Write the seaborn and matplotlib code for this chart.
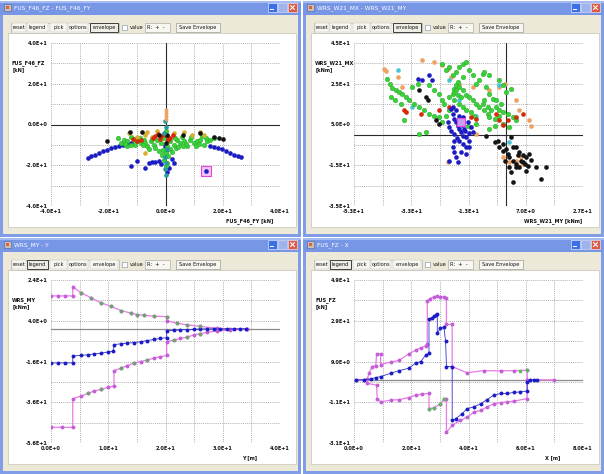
import numpy as np
import pandas as pd
import matplotlib
matplotlib.use("Agg")
import matplotlib.pyplot as plt
from matplotlib.patches import Rectangle
import seaborn as sns

# ---------------------------------------------------------------- data
# Window 1: FUS_F46_FZ vs FUS_F46_FY  [kN]
P1_BLUE = [(-27.2, -16.4), (-26.1, -15.6), (-24.7, -14.8), (-23.3, -14.0), (-22.0, -13.2),
           (-20.5, -12.4), (-19.1, -11.5), (-17.7, -10.9), (-16.2, -10.4), (-14.7, -9.9),
           (-13.3, -9.4), (-11.9, -9.1), (15.4, -10.4), (16.8, -10.9), (18.2, -11.5),
           (19.6, -12.2), (21.0, -13.2), (22.4, -14.0), (23.8, -14.8), (25.2, -15.3),
           (26.3, -15.9), (-11.9, -20.5), (-10.1, -17.9), (-7.2, -21.3), (-5.8, -18.9),
           (-4.6, -18.2), (-3.5, -18.5), (-2.3, -18.0), (-1.4, -19.2), (0.6, -23.3),
           (1.2, -21.3), (2.3, -16.9), (3.1, -18.9), (0.2, -13.2), (-0.3, -10.7), (14.3, -22.9)]
P1_GREEN = [(-15.7, -9.1), (-14.5, -7.5), (-13.3, -8.3), (-12.2, -9.9), (-11.0, -7.5), (-9.9, -8.3),
            (-8.7, -9.1), (-7.5, -7.5), (-6.4, -10.7), (-5.2, -8.3), (-4.1, -9.9), (-2.9, -7.5),
            (-1.7, -9.1), (-0.6, -6.7), (0.6, -10.7), (1.7, -8.3), (2.9, -9.9), (4.1, -7.5),
            (5.2, -9.1), (6.4, -8.3), (7.5, -10.7), (8.7, -7.5), (9.9, -9.1), (11.0, -8.3),
            (12.2, -7.5), (13.3, -9.9), (14.5, -8.3), (15.7, -7.5), (16.8, -6.7), (-13.3, -10.7),
            (-10.5, -10.0), (-7.0, -9.0), (-3.5, -11.5), (3.5, -11.5), (7.0, -9.5), (10.5, -10.5),
            (-1.0, -12.4), (0.0, -14.0), (1.0, -15.6), (-0.5, -17.2), (0.5, -18.9), (-1.2, -14.8),
            (1.5, -12.0), (0.2, -20.5), (-0.3, -5.0), (0.3, -3.4), (-16.5, -6.5), (-12.0, -6.0),
            (-9.0, -6.5), (5.8, -6.0), (9.0, -6.2), (12.8, -5.8), (4.5, -11.0), (-5.8, -11.8),
            (2.2, -13.5), (-2.2, -13.0), (-14.0, -9.5), (-8.0, -10.2), (-4.8, -7.0), (3.2, -6.8),
            (6.0, -10.4), (11.6, -9.8), (14.0, -6.8), (-10.8, -6.9)]
P1_GOLD = [(-12.8, -4.2), (-9.9, -5.9), (-7.3, -5.0), (-6.4, -3.9), (-4.6, -5.9), (2.9, -4.2),
           (6.4, -3.9), (9.3, -5.0), (12.2, -3.9), (13.6, -5.0), (-7.0, -14.0), (-2.9, -3.4)]
P1_RED = [(-3.5, -5.5), (-2.5, -4.5), (-1.5, -5.5), (-0.5, -4.8), (0.5, -5.8), (1.5, -6.5),
          (-2.0, -7.0), (0.8, -7.5), (-4.5, -6.5), (2.5, -5.0), (-10.0, -8.0), (-11.5, -7.0),
          (-8.7, -7.5)]
P1_BLACK = [(-20.5, -8.3), (-12.4, -3.9), (-8.1, -3.9), (-2.3, -5.0), (0.6, -5.0), (6.1, -5.0),
            (12.2, -4.2), (16.8, -6.2), (18.6, -6.7), (20.1, -7.2), (0.0, -9.1)]
P1_TEAL = [(-0.3, 1.5), (0.2, -1.0), (-0.4, -4.0), (0.4, -12.0), (-0.2, -16.0), (0.3, -19.0),
           (-0.1, -22.0), (0.0, -25.0)]
P1_ORANGE = [(0.1, 7.0), (0.1, 5.5), (0.1, 4.0), (0.1, 2.5)]
P1_PICKED = [(14.3, -22.9)]

# Window 2: WRS_W21_MX vs WRS_W21_MY  [kNm]
P2_GREEN = [(-41.3, 27.5), (-40.5, 25.0), (-39.6, 23.0), (-38.4, 21.7), (-37.2, 20.9), (-36.1, 20.1),
            (-40.2, 18.4), (-38.6, 16.8), (-36.7, 15.2), (-34.9, 18.4), (-33.7, 16.8), (-32.0, 15.2),
            (-30.2, 13.5), (-28.5, 11.9), (-26.7, 10.2), (-25.0, 9.4), (-23.2, 8.6), (-27.7, 1.2),
            (-32.6, 23.4), (-30.8, 25.0), (-26.7, 24.2), (-25.0, 21.7), (-23.2, 20.1), (-22.1, 16.8),
            (-21.5, 15.2), (-19.7, 18.4), (-18.5, 20.1), (-18.0, 22.5), (-17.4, 24.2), (-16.8, 25.8),
            (-16.2, 23.4), (-15.0, 21.7), (-13.9, 19.3), (-12.7, 18.4), (-11.5, 16.8), (-10.4, 15.2),
            (-9.2, 13.5), (-7.5, 11.9), (-6.3, 10.2), (-5.7, 8.6), (-3.9, 7.8), (-2.2, 9.4),
            (-1.0, 11.1), (0.7, 10.2), (2.5, 8.6), (3.6, 7.0), (-10.4, 25.0), (-9.2, 26.6),
            (-8.0, 29.9), (-6.9, 23.4), (-5.7, 20.1), (-4.5, 17.6), (-3.4, 16.8), (-1.6, 15.2),
            (-16.2, 33.2), (-15.0, 34.8), (-13.9, 35.7), (-17.4, 30.7), (-18.5, 29.1), (-19.7, 33.2),
            (-20.9, 31.6), (-22.1, 34.8), (-15.0, 28.3), (-12.7, 31.6), (-11.5, 29.1), (-18.0, 16.8),
            (-16.2, 15.2), (-15.0, 13.5), (-13.9, 11.9), (-12.1, 11.1), (-11.0, 9.4), (-19.7, 11.9),
            (-20.9, 9.4), (1.9, 22.5), (0.1, 20.9), (-1.0, 24.2), (-2.2, 26.6), (-5.7, 29.1),
            (-7.5, 30.7), (-5.7, 2.9), (-3.9, 4.5), (-10.4, 5.3), (-13.3, 4.5), (-22.1, 6.1),
            (-15.0, 7.8), (-1.0, 5.3), (1.3, 3.7), (-7.5, 16.8), (-6.3, 13.5), (-30.2, 0.4),
            (-35.5, 7.0), (-18.0, 20.9), (-16.8, 19.3), (-15.6, 18.4), (-17.4, 21.7), (-8.0, 15.2),
            (-5.1, 11.9), (-3.4, 13.5), (-2.2, 11.9)]
P2_ORANGE = [(-42.5, 32.4), (-41.9, 31.2), (-37.8, 28.3), (-36.1, 23.4), (-29.1, 36.5), (-25.0, 35.7),
             (-22.1, 34.0), (-20.3, 32.4), (-19.1, 28.3), (-16.2, 25.0), (-11.5, 23.4), (-5.7, 21.7),
             (-2.2, 23.4), (-0.4, 25.0), (3.6, 16.8), (4.8, 11.9), (8.3, 7.0), (8.9, 4.5),
             (-1.0, -11.1), (1.3, -13.5), (3.6, -12.7), (6.0, -14.3), (4.2, -15.2), (5.4, -11.1),
             (-20.3, -13.5), (-10.4, 0.4)]
P2_CYAN = [(-37.8, 31.6), (-32.6, 13.5), (-19.7, 26.6), (-2.2, 24.2), (1.3, -3.7), (-16.2, 16.8),
           (-10.4, 9.4)]
P2_RED = [(-35.5, 11.9), (-34.9, 11.1), (-29.6, 10.2), (-23.2, 11.9), (-19.7, 13.5), (-12.1, 8.6),
          (-10.4, 7.8), (-2.2, 7.0), (-1.0, 5.0), (0.7, 7.0), (3.6, 8.6), (6.0, 10.2), (-3.4, 10.2)]
P2_BLUE = [(-30.8, 27.5), (-29.1, 26.6), (-26.7, 29.1), (-25.6, 26.6), (-19.1, 12.7), (-18.5, 10.2),
           (-18.0, 7.8), (-17.4, 6.1), (-16.8, 4.5), (-16.2, 2.9), (-15.6, 1.2), (-15.0, -0.4),
           (-13.9, -1.2), (-12.7, -2.9), (-19.1, 2.0), (-18.0, 0.4), (-17.1, -1.6), (-16.2, -2.9),
           (-15.0, -4.5), (-13.9, -6.1), (-12.7, -5.8), (-18.5, -6.1), (-18.0, -8.6), (-17.4, -11.1),
           (-19.7, -12.7), (-16.8, -13.5), (-20.3, 6.1), (-19.7, 3.7), (-14.8, 8.6), (-13.3, 6.1),
           (-12.1, 3.7), (-15.3, 5.0), (-14.1, 2.0), (-12.9, 0.7), (-16.4, 9.4), (-18.0, -2.9),
           (-15.6, -8.6), (-13.9, -9.4), (-14.5, 2.9), (-11.5, 1.2), (-18.5, 13.5), (-17.4, 11.9)]
P2_BLACK = [(-30.2, 21.7), (-27.9, 18.4), (-24.4, 7.0), (-23.2, 5.3), (-27.3, 16.8), (-6.9, -0.4),
            (-3.9, -3.7), (-2.2, -6.1), (-1.0, -7.8), (0.1, -7.0), (0.7, -9.4), (1.3, -11.1),
            (2.5, -12.7), (3.6, -14.3), (4.8, -16.0), (6.0, -13.5), (7.2, -11.1), (8.3, -9.4),
            (1.9, -1.2), (2.5, -6.1), (3.6, -6.1), (4.8, -8.6), (6.0, -10.2), (-0.4, -12.7),
            (1.3, -16.0), (1.9, -18.4), (2.5, -23.4), (3.6, -16.0), (7.2, -17.6), (10.7, -16.0),
            (14.2, -16.0), (12.4, -21.7), (-1.0, -4.5), (-2.8, -2.9), (5.4, -12.7), (6.6, -14.3),
            (7.7, -15.2), (8.9, -12.4), (4.2, -10.2)]
P2_PICKED = [(-15.6, 6.1)]

# Window 3: WRS_MY [kNm] along Y [m]
P3_UPPER = [(0.0, 16.2), (1.2, 16.2), (2.5, 16.2), (3.8, 16.2), (3.8, 20.7), (5.2, 17.8), (7.0, 15.3),
            (8.7, 12.8), (10.4, 11.2), (12.2, 9.0), (13.9, 7.8), (15.1, 7.0), (16.2, 6.7), (18.0, 6.2),
            (20.2, 6.0), (20.2, 4.0), (22.0, 2.8), (23.8, 2.0), (26.1, 1.2), (29.0, 0.3), (31.3, 0.0),
            (34.2, 0.0)]
P3_MID = [(0.0, -16.7), (1.2, -16.7), (2.5, -16.7), (3.8, -16.7), (3.8, -13.3), (5.2, -13.0),
          (6.4, -12.7), (7.5, -12.3), (8.7, -12.0), (9.9, -11.3), (10.9, -11.0), (11.0, -7.7),
          (12.2, -7.3), (13.3, -7.0), (14.5, -6.7), (15.7, -6.3), (16.8, -5.7), (18.0, -5.2),
          (19.1, -4.7), (20.2, -4.3), (20.2, -1.0), (21.4, -0.7), (22.6, -0.5), (23.8, -0.3),
          (24.9, -0.2), (26.1, 0.0), (27.2, 0.0), (28.4, 0.0), (29.6, 0.0), (30.7, 0.0), (31.9, 0.0),
          (33.0, 0.0), (34.1, 0.0)]
P3_LOWER = [(0.0, -48.3), (1.9, -48.3), (3.8, -48.3), (3.8, -34.3), (5.2, -33.0), (6.4, -31.7),
            (7.5, -30.5), (8.7, -29.7), (9.9, -28.7), (11.0, -28.0), (11.0, -20.5), (12.2, -19.3),
            (13.3, -18.0), (14.5, -16.8), (15.7, -16.0), (16.8, -15.3), (18.0, -14.3), (19.1, -13.7),
            (20.2, -13.0), (20.2, -6.3), (21.4, -5.5), (22.6, -4.7), (23.8, -4.0), (24.9, -3.0),
            (26.1, -2.3), (27.2, -1.7), (29.0, -1.0), (31.3, -0.5), (34.2, 0.0)]
P3_GREEN = [(5.2, 17.8), (7.0, 15.3), (8.7, 12.8), (10.4, 11.2), (12.2, 9.0), (13.9, 7.8),
            (15.1, 7.0), (16.2, 6.7), (18.0, 6.2), (20.2, 6.0), (22.0, 2.8), (23.8, 2.0),
            (26.1, 1.2), (6.4, -31.7), (8.7, -29.7), (12.2, -19.3), (14.5, -16.8), (16.8, -15.3),
            (21.4, -5.5), (23.8, -4.0), (26.1, -2.3)]

# Window 4: FUS_FZ [kN] along X [m]
P4_UPPER = [(0.6, 0.0), (3.5, 0.0), (4.7, 0.4), (5.2, 3.2), (6.4, 6.5), (7.6, 7.0), (7.9, 12.6),
            (9.3, 12.8), (9.3, 7.5), (12.8, 8.7), (15.7, 9.5), (19.2, 12.8), (21.5, 14.5),
            (23.3, 15.7), (25.0, 16.6), (25.6, 17.5), (25.6, 38.8), (26.7, 39.9), (27.9, 40.7),
            (29.1, 41.0), (30.2, 40.7), (31.4, 40.7), (32.3, 40.1), (32.3, 27.2), (34.3, 27.2),
            (34.3, 6.5), (39.5, 3.5), (45.3, 4.5), (51.2, 4.4), (55.8, 4.5), (60.5, 4.7),
            (60.5, 0.0), (69.8, 0.0)]
P4_MID = [(0.6, 0.0), (3.5, 0.0), (5.8, 0.4), (7.6, 1.1), (9.3, 1.6), (12.8, 3.2), (15.7, 4.5),
          (19.2, 5.7), (21.5, 8.2), (23.3, 9.0), (25.0, 12.0), (26.2, 13.1), (26.2, 29.7),
          (27.3, 30.5), (27.9, 31.3), (28.5, 31.8), (29.1, 32.1), (29.1, 23.0), (30.2, 25.2),
          (31.4, 25.9), (32.0, 18.9), (32.3, 6.5), (34.3, 6.5), (34.3, -19.9), (35.5, -19.1),
          (37.8, -16.6), (39.5, -14.1), (41.9, -13.3), (44.2, -11.7), (46.5, -9.7), (48.8, -7.5),
          (51.2, -6.7), (53.5, -6.7), (55.8, -6.2), (58.1, -5.9), (60.5, -5.5), (60.5, -0.9),
          (61.6, 0.0), (62.8, 0.0), (64.0, 0.0)]
P4_LOWER = [(4.7, -1.7), (7.9, -2.6), (8.1, -9.2), (9.3, -10.8), (12.8, -10.0), (15.7, -9.7),
            (19.2, -8.7), (21.5, -7.5), (23.8, -7.0), (26.2, -6.7), (26.2, -14.1), (27.9, -13.8),
            (30.2, -11.7), (31.6, -9.2), (32.3, -9.2), (32.3, -25.7), (34.3, -22.4), (37.2, -19.9),
            (39.5, -18.3), (41.9, -15.8), (44.2, -15.0), (46.5, -13.3), (48.8, -11.7), (51.2, -11.2),
            (53.5, -10.8), (55.8, -10.5), (60.5, -9.2), (60.5, 0.0)]
P4_GREEN = [(26.2, -14.1), (27.9, -13.8), (30.2, -11.7), (31.6, -9.2), (58.1, 4.5), (60.5, 4.7)]

# axis ranges (one grid step per tick) and labels
AXES = [
    dict(title="FUS_F46_FZ - FUS_F46_FY", xlab="FUS_F46_FY [kN]", ylab=("FUS_F46_FZ", "[kN]"),
         xr=(-40, 40, 10), yr=(-40, 40, 10), active="envelope"),
    dict(title="WRS_W21_MX - WRS_W21_MY", xlab="WRS_W21_MY [kNm]", ylab=("WRS_W21_MX", "[kNm]"),
         xr=(-53, 27, 10), yr=(-35, 45, 10), active="envelope"),
    dict(title="WRS_MY - Y", xlab="Y [m]", ylab=("WRS_MY", "[kNm]"),
         xr=(0, 40, 5), yr=(-56, 24, 10), active="legend"),
    dict(title="FUS_FZ - X", xlab="X [m]", ylab=("FUS_FZ", "[kN]"),
         xr=(0, 80, 10), yr=(-31, 49, 10), active="legend"),
]

# ---------------------------------------------------------------- style
sns.set_theme(style="white")
plt.rcParams['font.family'] = ['DejaVu Sans']

BLUE = '#1c1cc4'
GREEN = '#3ad23a'
GREEN_EDGE = '#26a526'
GOLD = '#d8b030'
RED = '#d42a0a'
BLACK = '#141414'
TEAL = '#2a9a9a'
ORANGE = '#f0a060'
CYAN = '#48c4d8'
PINK = '#e67ae6'
PINK_MK = '#c45ed8'
TITLE_BLUE = '#7896e6'
BORDER_BLUE = '#819de8'
FACE = '#ece9d8'

FW, FH = 604, 474
fig = plt.figure(figsize=(FW / 100, FH / 100), dpi=100)
fig.patch.set_facecolor('white')

chrome = fig.add_axes([0, 0, 1, 1])
chrome.set_xlim(0, FW)
chrome.set_ylim(FH, 0)
chrome.axis('off')


def rect(x, y, w, h, fc, ec='none', lw=0.5, z=1):
    chrome.add_patch(Rectangle((x, y), w, h, facecolor=fc, edgecolor=ec, linewidth=lw, zorder=z))


def txt(x, y, s, size=3.9, color='#111111', ha='left', weight='normal', z=5):
    chrome.text(x, y, s, fontsize=size, color=color, ha=ha, va='center', fontweight=weight, zorder=z)


def draw_window(ox, oy, ww, wh, spec):
    # frame, title bar and client area
    rect(ox, oy + 1, ww, wh - 1, BORDER_BLUE)
    rect(ox, oy + 1, ww, 14, TITLE_BLUE, z=2)
    rect(ox, oy + 1, ww, 2, '#a4bcf2', z=2)
    rect(ox + 3, oy + 15, ww - 6, wh - 18, FACE, z=2)
    # title icon and caption
    rect(ox + 4, oy + 4, 7, 7, '#c8c0b0', ec='#5060a0', lw=0.4, z=3)
    rect(ox + 6, oy + 6, 3, 3, '#e06040', z=3)
    txt(ox + 14, oy + 8, spec["title"], size=4.2, color='white', z=4)
    # caption buttons
    bx = ox + ww - 33
    rect(bx, oy + 3, 9, 9, '#3d6fe6', ec='white', lw=0.4, z=3)
    rect(bx + 2, oy + 9, 4, 1.2, 'white', z=4)
    rect(bx + 10, oy + 3, 9, 9, '#9fb4ea', ec='#dfe6fa', lw=0.4, z=3)
    rect(bx + 20, oy + 3, 9, 9, '#dd5a45', ec='white', lw=0.4, z=3)
    chrome.plot([bx + 22.5, bx + 26.5], [oy + 5.5, oy + 9.5], color='white', lw=0.8, zorder=4)
    chrome.plot([bx + 22.5, bx + 26.5], [oy + 9.5, oy + 5.5], color='white', lw=0.8, zorder=4)
    # toolbar
    tb_y, tb_h = oy + 23, 9
    buttons = [("reset", 12, 26), ("legend", 27, 48), ("pick", 50, 67), ("options", 68, 88),
               ("envelope", 90, 118)]
    rect(ox + 11, tb_y - 0.5, 108, tb_h + 1, '#f4f3ee', ec='#a8a69a', lw=0.4, z=3)
    for name, x0, x1 in buttons:
        active = name == spec["active"]
        rect(ox + x0, tb_y, x1 - x0, tb_h, '#f7f6f1' if not active else '#efeee6',
             ec='#404040' if active else '#c0bdb0', lw=0.7 if active else 0.3, z=4)
        txt(ox + (x0 + x1) / 2, tb_y + tb_h / 2, name, size=3.6, ha='center', z=5)
    rect(ox + 122, tb_y + 2, 5, 5, 'white', ec='#7a8aa0', lw=0.4, z=4)
    txt(ox + 130, tb_y + tb_h / 2, "value", size=3.6, z=5)
    rect(ox + 145, tb_y, 25, tb_h, '#f7f6f1', ec='#a0a0a0', lw=0.4, z=4)
    txt(ox + 147, tb_y + tb_h / 2, "R:  +  -", size=3.6, z=5)
    rect(ox + 176, tb_y, 44, tb_h, '#f7f6f1', ec='#8c8a80', lw=0.4, z=4)
    txt(ox + 198, tb_y + tb_h / 2, "Save Envelope", size=3.6, ha='center', z=5)
    # white client panel
    rect(ox + 8, oy + 33, ww - 13, 194, 'white', ec='#b8b6aa', lw=0.4, z=3)
    # axis titles
    txt(ox + 12, oy + 63, spec["ylab"][0], size=3.6, weight='bold', z=5)
    txt(ox + 13, oy + 70, spec["ylab"][1], size=3.6, weight='bold', z=5)
    txt(ox + 250, oy + 221, spec["xlab"], size=3.6, weight='bold', ha='center', z=5)


def sci(v):
    if v == 0:
        return "0.0E+0"
    m, e = f"{v:.1E}".split("E")
    return f"{m}E{int(e):+d}"


def make_axes(ox, oy, spec):
    left, right, top, bottom = ox + 51, ox + 280, oy + 43, oy + 206
    ax = fig.add_axes([left / FW, 1 - bottom / FH, (right - left) / FW, (bottom - top) / FH])
    ax.set_facecolor('none')
    return ax


def finish_axes(ax, spec):
    x0, x1, xs = spec["xr"]
    y0, y1, ys = spec["yr"]
    xt = np.arange(x0, x1 + xs / 2, xs)
    yt = np.arange(y0, y1 + ys / 2, ys)
    ax.set_xlim(x0, x1)
    ax.set_ylim(y0, y1)
    ax.set_xticks(xt)
    ax.set_yticks(yt)
    ax.set_xticklabels([sci(v) if i % 2 == 0 else "" for i, v in enumerate(xt)])
    ax.set_yticklabels([sci(v) if i % 2 == 0 else "" for i, v in enumerate(yt)])
    ax.set_xlabel("")
    ax.set_ylabel("")
    ax.tick_params(length=0, labelsize=3.6, pad=2.2, colors='#111111')
    for lab in ax.get_xticklabels() + ax.get_yticklabels():
        lab.set_fontweight('bold')
    ax.grid(True, color='#9a9a9a', linestyle=(0, (1, 1.3)), linewidth=0.6)
    ax.set_axisbelow(True)
    for s in ax.spines.values():
        s.set_visible(False)


def pts(data):
    return pd.DataFrame(data, columns=["x", "y"])


def dots(ax, data, color, s=11, ec=None, lw=0.0, z=3):
    d = pts(data)
    sns.scatterplot(data=d, x="x", y="y", color=color, s=s, edgecolor=ec if ec else color,
                    linewidth=lw, ax=ax, zorder=z, legend=False)


def path(ax, data, color, mk_color, lw=0.9, ms=2.8, z=3):
    d = pts(data)
    sns.lineplot(data=d, x="x", y="y", sort=False, estimator=None, color=color, linewidth=lw,
                 marker='o', markersize=ms, markerfacecolor=mk_color, markeredgecolor=mk_color,
                 markeredgewidth=0, ax=ax, zorder=z, legend=False)


WINDOWS = [(0, 0), (303, 0), (0, 237), (303, 237)]
for (ox, oy), spec in zip(WINDOWS, AXES):
    draw_window(ox, oy, 301, 237, spec)

axs = [make_axes(ox, oy, spec) for (ox, oy), spec in zip(WINDOWS, AXES)]

# window 1
ax = axs[0]
ax.axhline(0, color='#2a2a2a', lw=0.8, zorder=2)
ax.axvline(0, color='#2a2a2a', lw=0.8, zorder=2)
dots(ax, P1_BLUE, BLUE)
dots(ax, P1_GREEN, GREEN, ec=GREEN_EDGE, lw=0.3)
dots(ax, P1_GOLD, GOLD)
dots(ax, P1_RED, RED)
dots(ax, P1_BLACK, BLACK)
dots(ax, P1_TEAL, TEAL)
dots(ax, P1_ORANGE, ORANGE, s=8)
sns.scatterplot(data=pts(P1_PICKED), x="x", y="y", marker='s', s=45, color='#f4c4f4',
                edgecolor='#e048e0', linewidth=0.8, ax=ax, zorder=2, legend=False)

# window 2
ax = axs[1]
ax.axhline(0, color='#2a2a2a', lw=0.8, zorder=2)
ax.axvline(0, color='#2a2a2a', lw=0.8, zorder=2)
dots(ax, P2_ORANGE, ORANGE)
dots(ax, P2_CYAN, CYAN)
dots(ax, P2_GREEN, GREEN, ec=GREEN_EDGE, lw=0.3)
dots(ax, P2_RED, RED)
dots(ax, P2_BLUE, BLUE)
dots(ax, P2_BLACK, BLACK)
sns.scatterplot(data=pts(P2_PICKED), x="x", y="y", marker='s', s=40, color='#c8a0f0',
                edgecolor='#e048e0', linewidth=0.8, ax=ax, zorder=4, legend=False)

# window 3
ax = axs[2]
ax.axhline(0, color='#8a8a8a', lw=0.9, zorder=2)
path(ax, P3_UPPER, PINK, PINK_MK)
path(ax, P3_LOWER, PINK, PINK_MK)
path(ax, P3_MID, '#3030d0', BLUE, lw=0.6)
dots(ax, P3_GREEN, '#6aa86a', s=7)

# window 4
ax = axs[3]
ax.axhline(0, color='#8a8a8a', lw=0.9, zorder=2)
path(ax, P4_UPPER, PINK, PINK_MK)
path(ax, P4_LOWER, PINK, PINK_MK)
path(ax, P4_MID, '#3030d0', BLUE, lw=0.6)
dots(ax, P4_GREEN, '#5cb85c', s=7)

for ax, spec in zip(axs, AXES):
    finish_axes(ax, spec)

fig.savefig("out.png", dpi=100, facecolor=fig.get_facecolor())
